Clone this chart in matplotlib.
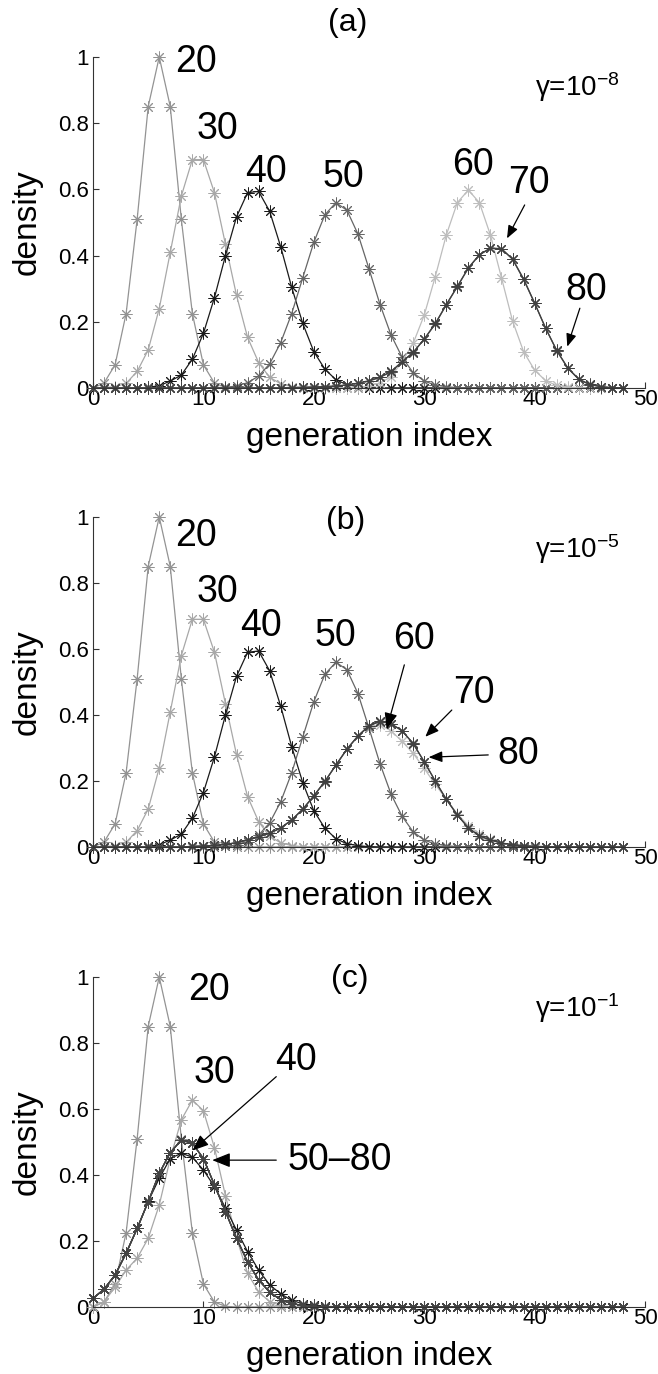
#density of generation index for three gamma values
#curves for 20..80
import numpy as np
import matplotlib.pyplot as plt

plt.rcParams['font.family'] = ['Liberation Sans', 'DejaVu Sans']
plt.rcParams['mathtext.fontset'] = 'custom'
plt.rcParams['mathtext.rm'] = 'Liberation Sans'
plt.rcParams['mathtext.default'] = 'regular'

gen = np.arange(49)   # generation index 0..48

def pad(start, vals):
    # nonzero part of a curve, zeros elsewhere
    full = np.zeros(49)
    full[start:start + len(vals)] = vals
    return full

# ---- shared by (a) and (b)
d20 = pad(0, [0, 0.015, 0.07, 0.225, 0.51, 0.85, 1.0, 0.85, 0.51, 0.225,
              0.07, 0.015, 0.002])
d30 = pad(0, [0, 0.001, 0.004, 0.014, 0.05, 0.115, 0.24, 0.41, 0.58, 0.69,
              0.69, 0.59, 0.434, 0.28, 0.153, 0.077, 0.032, 0.013, 0.004, 0.001])
d40 = pad(5, [0.002, 0.007, 0.021, 0.039, 0.087, 0.165, 0.273, 0.40, 0.517,
              0.59, 0.594, 0.534, 0.427, 0.304, 0.195, 0.11, 0.057, 0.025,
              0.01, 0.004, 0.001])
d50 = pad(11, [0.001, 0.002, 0.006, 0.016, 0.036, 0.073, 0.137, 0.225, 0.333,
               0.44, 0.523, 0.56, 0.537, 0.465, 0.36, 0.252, 0.16, 0.093,
               0.046, 0.021, 0.009, 0.004, 0.001])
# ---- (a) gamma = 1e-8
a60 = pad(23, [0.001, 0.002, 0.006, 0.015, 0.034, 0.08, 0.135, 0.22, 0.336,
               0.462, 0.56, 0.598, 0.56, 0.462, 0.333, 0.203, 0.11, 0.054,
               0.022, 0.008, 0.003, 0.001])
a70 = pad(18, [0.001, 0.002, 0.003, 0.004, 0.006, 0.009, 0.014, 0.021, 0.032,
               0.049, 0.08, 0.107, 0.147, 0.193, 0.251, 0.306, 0.362, 0.402,
               0.422, 0.42, 0.389, 0.328, 0.256, 0.18, 0.113, 0.06, 0.026,
               0.01, 0.004, 0.001])
a80 = pad(18, [0.001, 0.002, 0.003, 0.004, 0.006, 0.009, 0.015, 0.022, 0.033,
               0.05, 0.079, 0.108, 0.148, 0.195, 0.252, 0.307, 0.363, 0.403,
               0.423, 0.421, 0.39, 0.33, 0.257, 0.181, 0.114, 0.061, 0.027,
               0.011, 0.004, 0.001])
# ---- (b) gamma = 1e-5
b60 = pad(9, [0.002, 0.003, 0.005, 0.008, 0.013, 0.021, 0.03, 0.042, 0.058,
              0.082, 0.115, 0.155, 0.198, 0.248, 0.296, 0.336, 0.365, 0.37,
              0.352, 0.32, 0.284, 0.238, 0.19, 0.145, 0.10, 0.065, 0.04,
              0.023, 0.012, 0.006, 0.003, 0.001])
b70 = pad(9, [0.002, 0.003, 0.005, 0.008, 0.013, 0.021, 0.03, 0.042, 0.058,
              0.082, 0.115, 0.155, 0.198, 0.248, 0.296, 0.336, 0.367, 0.38,
              0.373, 0.352, 0.314, 0.259, 0.20, 0.145, 0.097, 0.058, 0.033,
              0.021, 0.012, 0.007, 0.004, 0.002, 0.001])
b80 = pad(9, [0.002, 0.003, 0.005, 0.008, 0.013, 0.021, 0.031, 0.042, 0.057,
              0.082, 0.114, 0.155, 0.199, 0.248, 0.297, 0.337, 0.368, 0.381,
              0.374, 0.352, 0.313, 0.258, 0.20, 0.144, 0.097, 0.058, 0.034,
              0.021, 0.012, 0.007, 0.004, 0.002, 0.001])
# ---- (c) gamma = 1e-1
c30 = pad(0, [0.001, 0.016, 0.06, 0.112, 0.148, 0.208, 0.309, 0.45, 0.567,
              0.627, 0.595, 0.483, 0.337, 0.21, 0.102, 0.046, 0.016, 0.005,
              0.001])
c40 = pad(0, [0.026, 0.054, 0.097, 0.163, 0.238, 0.32, 0.39, 0.45, 0.466,
              0.454, 0.415, 0.365, 0.30, 0.233, 0.168, 0.112, 0.067, 0.04,
              0.02, 0.01, 0.005, 0.002, 0.001])
c50 = pad(0, [0.026, 0.054, 0.097, 0.163, 0.238, 0.319, 0.405, 0.468, 0.506,
              0.496, 0.45, 0.37, 0.289, 0.208, 0.137, 0.082, 0.045, 0.022,
              0.01, 0.005, 0.002, 0.001])

col = {20: '#939393', 30: '#a8a8a8', 40: '#1a1a1a', 50: '#666666',
       60: '#bdbdbd', 70: '#4d4d4d', 80: '#404040'}

panels = [
    ('(a)', r'$\gamma$=10$^{-8}$',
     [(20, d20), (30, d30), (40, d40), (50, d50), (60, a60), (70, a70), (80, a80)],
     [('20', 7.4, 0.985), ('30', 9.4, 0.782), ('40', 13.8, 0.652),
      ('50', 20.8, 0.637), ('60', 32.5, 0.674), ('70', 37.6, 0.619),
      ('80', 42.75, 0.296)],
     [((39.1, 0.553), (37.5, 0.452), 14), ((44.1, 0.241), (42.96, 0.125), 14)]),
    ('(b)', r'$\gamma$=10$^{-5}$',
     [(20, d20), (30, d30), (40, d40), (50, d50), (60, b60), (70, b70), (80, b80)],
     [('20', 7.4, 0.942), ('30', 9.4, 0.773), ('40', 13.3, 0.67),
      ('50', 20.1, 0.64), ('60', 27.2, 0.63), ('70', 32.6, 0.467),
      ('80', 36.6, 0.282)],
     [((28.2, 0.552), (26.6, 0.357), 18), ((32.5, 0.415), (30.1, 0.334), 15),
      ((35.8, 0.279), (30.4, 0.272), 15)]),
    ('(c)', r'$\gamma$=10$^{-1}$',
     [(20, d20), (30, c30), (40, c40), (50, c50), (60, c50), (70, c50), (80, c50)],
     [('20', 8.6, 0.96), ('30', 9.1, 0.709), ('40', 16.5, 0.75),
      ('50\u201380', 17.6, 0.445)],
     [((16.6, 0.698), (9.0, 0.474), 18), ((16.6, 0.445), (10.8, 0.445), 20)]),
]

W, H = 658, 1374
fig = plt.figure(figsize=(W / 100, H / 100), dpi=100)
bottoms = [986, 527, 67]
heights = [331, 330, 330]

for k, (tag, gtxt, curves, labels, arrows) in enumerate(panels):
    ax = fig.add_axes([93 / W, bottoms[k] / H, 552 / W, heights[k] / H])
    for n, y in curves:
        c = '#444444' if (tag == '(c)' and n >= 50) else col[n]
        ax.plot(gen, y, '-', color=c, lw=0.9, marker=(8, 2, 0), ms=8.5,
                mew=0.7, clip_on=False)
    ax.set_xlim(0, 50)
    ax.set_ylim(0, 1)
    ax.set_xticks([0, 10, 20, 30, 40, 50])
    ax.set_yticks([0, 0.2, 0.4, 0.6, 0.8, 1])
    ax.set_yticklabels(['0', '0.2', '0.4', '0.6', '0.8', '1'])
    ax.spines['top'].set_visible(False)
    ax.spines['right'].set_visible(False)
    for s in ('left', 'bottom'):
        ax.spines[s].set_linewidth(0.8)
        ax.spines[s].set_color('#333333')
    ax.tick_params(direction='in', length=4, width=0.8, labelsize=16,
                   colors='#333333', labelcolor='k')
    ax.tick_params(axis='x', pad=1)
    ax.tick_params(axis='y', pad=3)
    ax.set_xlabel('generation index', fontsize=24)
    ax.xaxis.set_label_coords(0.5, -0.176)
    ax.xaxis.label.set_va('baseline')
    ax.set_ylabel('density', fontsize=24)
    ax.yaxis.set_label_coords(-0.092, 0.5)
    for t, x0, y0 in labels:
        ax.text(x0, y0, t, fontsize=27, ha='left', va='center')
    for tail, head, ms in arrows:
        ax.annotate('', xy=head, xytext=tail,
                    arrowprops=dict(arrowstyle='-|>,head_length=0.55,head_width=0.22',
                                    color='k', lw=0.9, shrinkA=0, shrinkB=0,
                                    mutation_scale=ms))
    ax.text([23.1, 22.9, 23.3][k], [1.103, 0.988, 0.994][k], tag,
            fontsize=23, ha='center', va='center')
    ax.text(40.0, [0.883, 0.876, 0.88][k], gtxt, fontsize=20,
            ha='left', va='baseline')

fig.savefig('out.png', dpi=100)
